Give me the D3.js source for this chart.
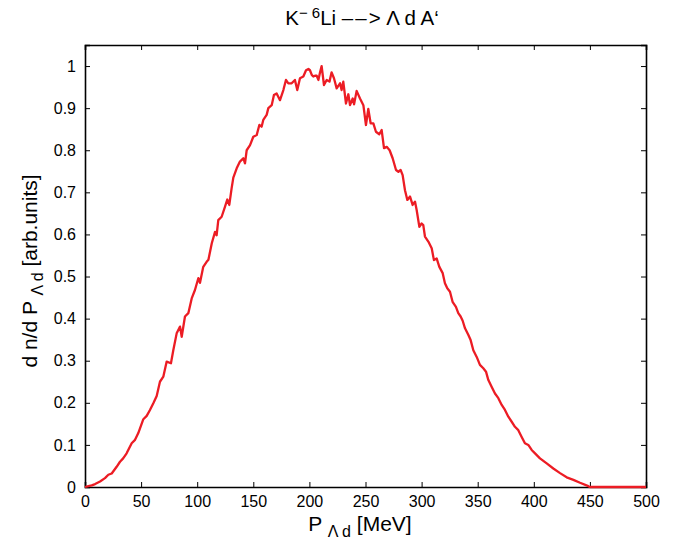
<!DOCTYPE html>
<html><head><meta charset="utf-8">
<script src="https://cdn.jsdelivr.net/npm/d3@7"></script>
<style>body{margin:0;background:#fff}svg{display:block}text{font-family:"Liberation Sans",Arial,Helvetica,sans-serif}</style>
</head><body>
<script>
const momentum = [0,3,6,9,13.4,17.8,20.8,23.8,28.2,31.2,34,37.1,41.6,44.6,47.5,52,55,57.9,60.9,63.9,66.8,69.8,72.8,76.6,78.7,81.7,84.7,86.2,89.1,92.1,95.1,98,101,102.5,105.4,108.4,110,113,115.9,117.3,118.8,121.8,124.8,126.8,128.6,130.7,132.2,135.2,138.1,141.1,142.6,144.1,147.1,150,153,155.4,157.4,158.9,161.9,163.4,166.4,168.4,170.8,173.8,176.8,179.1,181.2,184.2,187.1,189.2,191.6,194.6,197,199.1,200.5,202.1,203.5,205,206.5,208,209.5,210.9,213,215.4,217.9,219.8,221.9,224.3,227.3,228.7,230.2,232.6,234.7,236.2,238.6,239.8,242.1,245.1,248.1,250.4,252.5,254.6,257,259.3,262.3,264.4,266.5,268.9,271.5,274.2,277.2,279.3,281.3,283.1,285.2,287.3,289.7,292,294.1,295.6,298,300,301.5,303,306,309,311,313.4,315.8,318.8,320.8,322.9,325.3,327.6,330.6,332.7,334.8,336.6,338.7,341.7,343.7,346.1,349.1,352,355,357.4,359.5,362.4,365.4,368.4,371.4,374.3,377.3,380.3,383.2,386.2,389.2,392.1,395.1,398.1,401.1,405.5,411.5,417.4,423.4,429.3,435.3,441.2,448.6,450,475,500];
const yieldVals = [0,0.002,0.004,0.007,0.013,0.021,0.029,0.032,0.048,0.06,0.068,0.08,0.104,0.112,0.128,0.161,0.169,0.183,0.199,0.216,0.25,0.262,0.298,0.294,0.325,0.365,0.381,0.357,0.405,0.413,0.448,0.468,0.496,0.485,0.523,0.535,0.54,0.579,0.606,0.598,0.634,0.642,0.666,0.683,0.67,0.71,0.735,0.757,0.773,0.781,0.769,0.8,0.812,0.832,0.836,0.86,0.856,0.872,0.884,0.9,0.907,0.931,0.935,0.919,0.943,0.967,0.959,0.959,0.967,0.943,0.971,0.975,0.99,0.993,0.99,0.979,0.975,0.977,0.977,0.967,0.985,1.0,0.955,0.967,0.963,0.985,0.971,0.947,0.959,0.943,0.963,0.911,0.933,0.907,0.923,0.909,0.941,0.923,0.907,0.86,0.898,0.864,0.864,0.844,0.838,0.848,0.805,0.808,0.8,0.781,0.753,0.749,0.753,0.741,0.705,0.682,0.69,0.67,0.678,0.658,0.618,0.626,0.622,0.595,0.583,0.567,0.539,0.543,0.523,0.508,0.484,0.472,0.464,0.44,0.428,0.413,0.405,0.395,0.377,0.361,0.349,0.325,0.309,0.29,0.282,0.274,0.254,0.238,0.222,0.211,0.195,0.183,0.167,0.155,0.143,0.135,0.119,0.104,0.1,0.088,0.08,0.068,0.056,0.044,0.033,0.023,0.017,0.01,0.002,0,0,0];
const xTicks = [0,50,100,150,200,250,300,350,400,450,500];
const yTicks = [0,0.1,0.2,0.3,0.4,0.5,0.6,0.7,0.8,0.9,1];

const W = 678, H = 550;
const m = {left:85, right:32, top:45, bottom:63};
const svg = d3.select("body").append("svg").attr("width",W).attr("height",H);
const x = d3.scaleLinear().domain([0,500]).range([m.left, W-m.right]);
const y = d3.scaleLinear().domain([0,1.05]).range([H-m.bottom, m.top]);
const fmt = d => d===0 ? "0" : (d===1 ? "1" : d3.format(".1f")(d));

const gx = svg.append("g").attr("transform",`translate(0,${H-m.bottom})`)
  .call(d3.axisBottom(x).tickValues(xTicks).tickSize(-5).tickPadding(9).tickFormat(d3.format("d")));
const gxt = svg.append("g").attr("transform",`translate(0,${m.top})`)
  .call(d3.axisTop(x).tickValues(xTicks).tickSize(-5).tickFormat(""));
const gy = svg.append("g").attr("transform",`translate(${m.left},0)`)
  .call(d3.axisLeft(y).tickValues(yTicks).tickSize(-5).tickPadding(9).tickFormat(fmt));
const gyr = svg.append("g").attr("transform",`translate(${W-m.right},0)`)
  .call(d3.axisRight(y).tickValues(yTicks).tickSize(-5).tickFormat(""));
[gx,gxt,gy,gyr].forEach(g=>{
  g.select(".domain").attr("stroke","#000").attr("stroke-width",1.6);
  g.selectAll(".tick line").attr("stroke","#000").attr("stroke-width",1);
  g.selectAll(".tick text").attr("font-size",16).attr("fill","#000")
   .attr("font-family","Liberation Sans, Arial, sans-serif");
});

const pts = momentum.map((p,i)=>[p,yieldVals[i]]);
svg.append("path").datum(pts)
  .attr("fill","none").attr("stroke","#ec1c24").attr("stroke-width",2.3)
  .attr("stroke-linejoin","round")
  .attr("d", d3.line().x(d=>x(d[0])).y(d=>y(d[1])));

// title
const t = svg.append("text").attr("x",362).attr("y",25)
  .attr("text-anchor","middle").attr("font-size",20.5).attr("fill","#000");
t.append("tspan").text("K");
t.append("tspan").attr("dy",-7).attr("font-size",15).text("\u2212 6");
t.append("tspan").attr("dy",7).text("Li ");
t.append("tspan").attr("letter-spacing",2).text("\u2013\u2013");
t.append("tspan").attr("letter-spacing",0).text("> \u039B d A\u2018");

// x label
const xl = svg.append("text").attr("x",360).attr("y",531)
  .attr("text-anchor","middle").attr("font-size",21).attr("fill","#000");
xl.append("tspan").text("P ");
xl.append("tspan").attr("dy",6).attr("font-size",16).text("\u039B d");
xl.append("tspan").attr("dy",-6).text(" [MeV]");

// y label
const yl = svg.append("text").attr("transform",`translate(37,${271}) rotate(-90)`)
  .attr("text-anchor","middle").attr("font-size",21).attr("fill","#000");
yl.append("tspan").text("d n/d P ");
yl.append("tspan").attr("dy",6).attr("font-size",16).text("\u039B d");
yl.append("tspan").attr("dy",-6).text(" [arb.units]");
</script>
</body></html>
